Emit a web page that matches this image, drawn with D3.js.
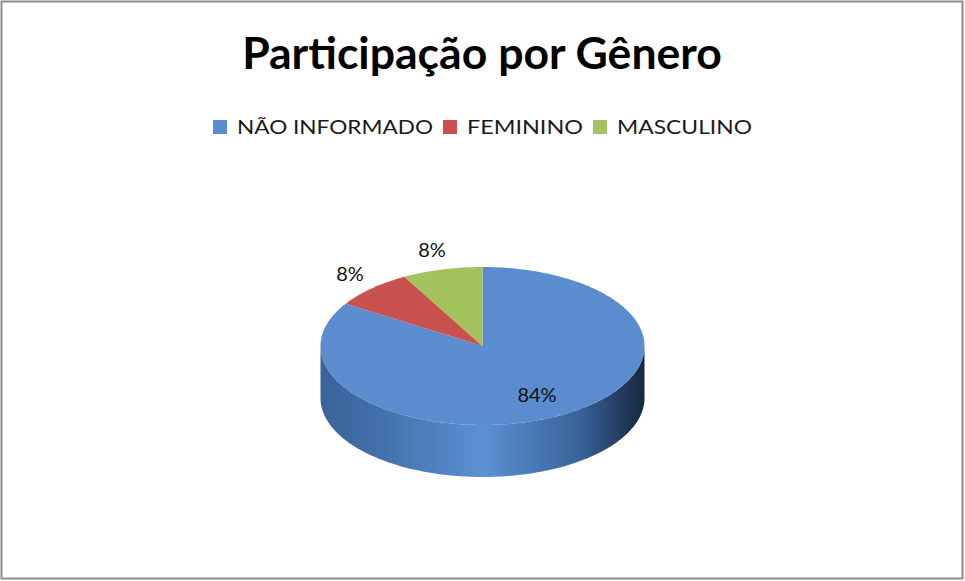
<!DOCTYPE html>
<html>
<head>
<meta charset="utf-8">
<script src="https://cdn.jsdelivr.net/npm/d3@7"></script>
<style>
  body { margin: 0; background: #fff; }
  text { font-family: Lato, "Open Sans", sans-serif; }
</style>
</head>
<body>
<div id="chart"></div>
<script>
// chart size
var svgWidth = 965;
var svgHeight = 581;

// data
var categories = ["NÃO INFORMADO", "FEMININO", "MASCULINO"];
var shares = [84, 8, 8];
var labels = ["84%", "8%", "8%"];
var colors = ["#5a8ccf", "#c9524e", "#a3c35e"];
var title = "Participação por Gênero";

// pie geometry (3d ellipse)
var cx = 482.5, cy = 346, rx = 162, ry = 79, depth = 52;

var svg = d3.select("#chart")
  .append("svg")
  .attr("width", svgWidth)
  .attr("height", svgHeight);

// outer frame
svg.append("rect")
  .attr("x", 1.5).attr("y", 1.5)
  .attr("width", svgWidth - 4).attr("height", svgHeight - 4)
  .attr("fill", "#fff")
  .attr("stroke", "#8c8c8c")
  .attr("stroke-width", 2);

// gradient for the side wall
var defs = svg.append("defs");
var grad = defs.append("linearGradient")
  .attr("id", "sideGrad")
  .attr("gradientUnits", "userSpaceOnUse")
  .attr("x1", cx - rx).attr("x2", cx + rx)
  .attr("y1", 0).attr("y2", 0);
grad.append("stop").attr("offset", "0%").attr("stop-color", "#3b6399");
grad.append("stop").attr("offset", "12%").attr("stop-color", "#3f6aa3");
grad.append("stop").attr("offset", "50%").attr("stop-color", "#5b90d2");
grad.append("stop").attr("offset", "80%").attr("stop-color", "#3a639a");
grad.append("stop").attr("offset", "100%").attr("stop-color", "#17263d");

// title
var titleText = svg.append("text")
  .attr("x", 482)
  .attr("y", 69)
  .attr("text-anchor", "middle")
  .attr("font-weight", "bold")
  .attr("font-size", 38)
  .attr("fill", "#000")
  .text(title);
var tw = titleText.node().getComputedTextLength();
titleText.attr("font-size", 38 * 480 / tw);

// legend
var legendX = [213, 443, 593];
var legendW = [196, 116, 135];
var legend = svg.append("g");
categories.forEach(function(c, i) {
  legend.append("rect")
    .attr("x", legendX[i]).attr("y", 120)
    .attr("width", 14).attr("height", 14)
    .attr("fill", colors[i]);
  legend.append("text")
    .attr("x", legendX[i] + 24)
    .attr("y", 134)
    .attr("font-size", 19)
    .attr("fill", "#1a1a1a")
    .attr("textLength", legendW[i])
    .attr("lengthAdjust", "spacingAndGlyphs")
    .text(c);
});

// angles from d3.pie (0 = 12 o'clock, clockwise)
var pie = d3.pie().sort(null).value(d => d);
var arcs = pie(shares);

function px(a, dy) { return [cx + rx * Math.sin(a), cy - ry * Math.cos(a) + (dy || 0)]; }

function arcPoints(a0, a1, dy) {
  var n = Math.max(2, Math.ceil(Math.abs(a1 - a0) / 0.02));
  var pts = [];
  for (var k = 0; k <= n; k++) {
    pts.push(px(a0 + (a1 - a0) * k / n, dy));
  }
  return pts;
}

// side walls (front half: PI/2 .. 3PI/2)
var sides = svg.append("g");
arcs.forEach(function(d, i) {
  var a0 = Math.max(d.startAngle, Math.PI / 2);
  var a1 = Math.min(d.endAngle, 3 * Math.PI / 2);
  if (a1 <= a0) return;
  var top = arcPoints(a0, a1, 0);
  var bot = arcPoints(a1, a0, depth);
  var path = "M" + top.concat(bot).map(p => p.join(",")).join("L") + "Z";
  sides.append("path")
    .attr("d", path)
    .attr("fill", i === 0 ? "url(#sideGrad)" : d3.color(colors[i]).darker(0.8));
});

// top surfaces
var tops = svg.append("g");
arcs.forEach(function(d, i) {
  var pts = [[cx, cy]].concat(arcPoints(d.startAngle, d.endAngle, 0));
  tops.append("path")
    .attr("d", "M" + pts.map(p => p.join(",")).join("L") + "Z")
    .attr("fill", colors[i]);
});

// data labels
var labelPos = [[537, 402], [350, 281], [432, 257]];
svg.append("g").selectAll("text")
  .data(labels)
  .enter()
  .append("text")
  .attr("x", (d, i) => labelPos[i][0])
  .attr("y", (d, i) => labelPos[i][1])
  .attr("text-anchor", "middle")
  .attr("font-size", 20)
  .attr("fill", "#111")
  .text(d => d);
</script>
</body>
</html>
